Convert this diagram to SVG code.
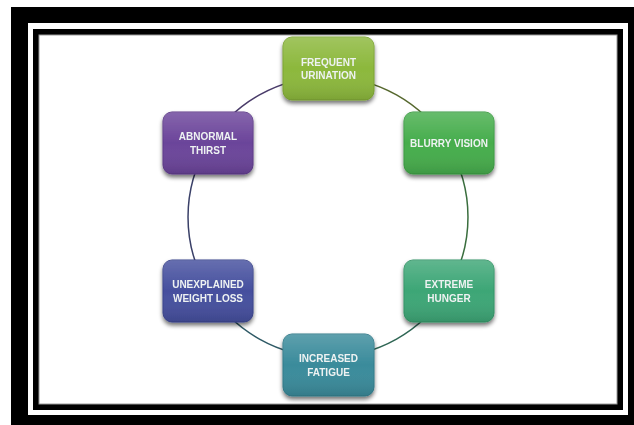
<svg xmlns="http://www.w3.org/2000/svg" width="634" height="425" viewBox="0 0 634 425">
  <style>
    .lbl { font-family: "Liberation Sans", Arial, sans-serif; font-weight: bold; font-size: 10px; fill: #eef2f2; text-anchor: middle; }
    .box { stroke-width: 1; }
    .arc { fill: none; stroke-width: 1.5; }
  </style>
  <defs>
    <filter id="shadow" x="-20%" y="-20%" width="140%" height="150%">
      <feGaussianBlur in="SourceAlpha" stdDeviation="2"/>
      <feOffset dx="0" dy="3" result="b"/>
      <feComponentTransfer><feFuncA type="linear" slope="0.55"/></feComponentTransfer>
      <feMerge><feMergeNode/><feMergeNode in="SourceGraphic"/></feMerge>
    </filter>
    <linearGradient id="gloss" x1="0" y1="0" x2="0" y2="1">
      <stop offset="0" stop-color="#ffffff" stop-opacity="0.18"/>
      <stop offset="0.5" stop-color="#ffffff" stop-opacity="0"/>
      <stop offset="1" stop-color="#000000" stop-opacity="0.12"/>
    </linearGradient>
  </defs>

  <!-- page frame: heavy black border, white gap, thin black border -->
  <rect x="0" y="0" width="634" height="425" fill="#ffffff"/>
  <rect x="11" y="7" width="640" height="430" fill="#000000"/>
  <rect x="28" y="23" width="600" height="392" fill="#ffffff"/>
  <rect x="33" y="29" width="590" height="381" fill="#000000"/>
  <rect x="39" y="35" width="578" height="369" fill="#ffffff" stroke="#9a9a9a" stroke-width="1"/>

  <!-- cycle connectors -->
  <g id="connectors">
    <path class="arc" stroke="#56682e" d="M328 77 A140 140 0 0 1 447.5 144.1"/>
    <path class="arc" stroke="#3a6e3e" d="M447.5 144.1 A140 140 0 0 1 447.5 289.9"/>
    <path class="arc" stroke="#2f6654" d="M447.5 289.9 A140 140 0 0 1 328 357"/>
    <path class="arc" stroke="#2f5a66" d="M328 357 A140 140 0 0 1 208.5 289.9"/>
    <path class="arc" stroke="#3a4068" d="M208.5 289.9 A140 140 0 0 1 208.5 144.1"/>
    <path class="arc" stroke="#4a3c6a" d="M208.5 144.1 A140 140 0 0 1 328 77"/>
  </g>

  <g id="frequent-urination" filter="url(#shadow)">
    <rect class="box" x="283" y="37" width="91" height="63" rx="9" fill="#8cb83c" stroke="#7aa331"/>
    <rect x="283" y="37" width="91" height="63" rx="9" fill="url(#gloss)"/>
    <text class="lbl" x="328.5" y="65.5">FREQUENT</text>
    <text class="lbl" x="328.5" y="79">URINATION</text>
  </g>

  <g id="blurry-vision" filter="url(#shadow)">
    <rect class="box" x="404" y="112" width="90" height="62" rx="9" fill="#46ad4c" stroke="#3b9a41"/>
    <rect x="404" y="112" width="90" height="62" rx="9" fill="url(#gloss)"/>
    <text class="lbl" x="449" y="146.5">BLURRY VISION</text>
  </g>

  <g id="extreme-hunger" filter="url(#shadow)">
    <rect class="box" x="404" y="260" width="90" height="62" rx="9" fill="#3da676" stroke="#339366"/>
    <rect x="404" y="260" width="90" height="62" rx="9" fill="url(#gloss)"/>
    <text class="lbl" x="449" y="288">EXTREME</text>
    <text class="lbl" x="449" y="301.5">HUNGER</text>
  </g>

  <g id="increased-fatigue" filter="url(#shadow)">
    <rect class="box" x="283" y="334" width="91" height="62" rx="9" fill="#3a8b9b" stroke="#317a89"/>
    <rect x="283" y="334" width="91" height="62" rx="9" fill="url(#gloss)"/>
    <text class="lbl" x="328.5" y="362">INCREASED</text>
    <text class="lbl" x="328.5" y="375.5">FATIGUE</text>
  </g>

  <g id="unexplained-weight-loss" filter="url(#shadow)">
    <rect class="box" x="163" y="260" width="90" height="62" rx="9" fill="#454f9e" stroke="#3b448b"/>
    <rect x="163" y="260" width="90" height="62" rx="9" fill="url(#gloss)"/>
    <text class="lbl" x="208" y="288">UNEXPLAINED</text>
    <text class="lbl" x="208" y="301.5">WEIGHT LOSS</text>
  </g>

  <g id="abnormal-thirst" filter="url(#shadow)">
    <rect class="box" x="163" y="112" width="90" height="62" rx="9" fill="#6b449a" stroke="#5c3a87"/>
    <rect x="163" y="112" width="90" height="62" rx="9" fill="url(#gloss)"/>
    <text class="lbl" x="208" y="140">ABNORMAL</text>
    <text class="lbl" x="208" y="153.5">THIRST</text>
  </g>
</svg>
